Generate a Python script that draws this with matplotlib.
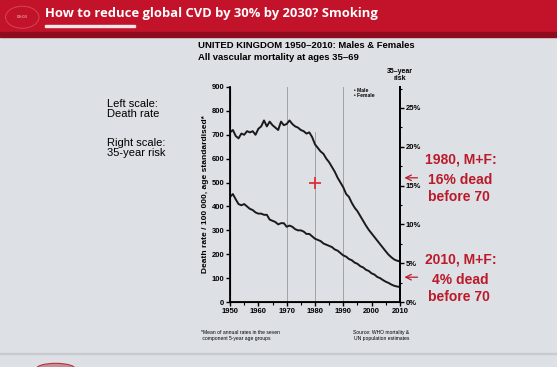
import matplotlib.pyplot as plt
from matplotlib.patches import Rectangle, Circle, Ellipse
import numpy as np

plt.rcParams['font.family'] = ['Liberation Sans', 'DejaVu Sans']

# Data (age-standardised death rate per 100 000)
years = list(range(1950, 2011))
male_rate = [710, 720, 695, 685, 705, 700, 715, 710, 715, 700,
             725, 735, 760, 735, 755, 740, 730, 720, 755, 740,
             745, 760, 745, 735, 730, 720, 715, 705, 710, 690,
             660, 645, 630, 620, 600, 585, 565, 545, 520, 500,
             480, 452, 440, 415, 395, 380, 360, 340, 320, 302,
             287, 272, 257, 242, 227, 212, 198, 187, 178, 173, 170]
female_rate = [440, 452, 430, 410, 405, 410, 400, 390, 385, 375,
               370, 370, 365, 365, 345, 340, 335, 325, 330, 330,
               315, 320, 315, 305, 300, 300, 295, 285, 285, 275,
               265, 260, 255, 245, 240, 235, 230, 220, 215, 205,
               195, 190, 180, 175, 165, 160, 150, 145, 135, 130,
               120, 115, 105, 100, 92, 85, 80, 73, 68, 65, 63]
ref_years = [1970, 1980, 1990]
left_ticks = [0, 100, 200, 300, 400, 500, 600, 700, 800, 900]
right_ticks = [0, 5, 10, 15, 20, 25]
# arrow level (right scale, %) and the three text lines beside it
risk_notes = [(16, "1980, M+F:", "16% dead", "before 70"),
              (3.2, "2010, M+F:", "4% dead", "before 70")]

bg = '#dde0e4'
red = '#bb1a2a'
fig = plt.figure(figsize=(5.57, 3.67), dpi=100)
fig.patch.set_facecolor(bg)

# header banner
fig.add_artist(Rectangle((0, 0.91), 1, 0.09, transform=fig.transFigure,
                         color='#c3132b', zorder=0))
fig.add_artist(Rectangle((0, 0.90), 1, 0.012, transform=fig.transFigure,
                         color='#8e0c1e', zorder=0))
fig.add_artist(Rectangle((0.081, 0.927), 0.162, 0.006, transform=fig.transFigure,
                         color='#f2e6e6', zorder=1))
fig.add_artist(Circle((0.04, 0.953), 0.03, transform=fig.transFigure,
                      facecolor='#c3132b', edgecolor='#d54452', lw=0.7, zorder=1))
fig.text(0.04, 0.953, "09:03", color='#f0c8cc', fontsize=3.2, ha='center', va='center')
fig.text(0.081, 0.963, "How to reduce global CVD by 30% by 2030? Smoking",
         color='white', fontsize=9.4, fontweight='bold', ha='left', va='center',
         family=['Open Sans', 'DejaVu Sans'])
# bottom slide furniture
fig.add_artist(Rectangle((0, 0.036), 1, 0.003, transform=fig.transFigure,
                         color='#c8ccd0', zorder=0))
fig.add_artist(Ellipse((0.1, -0.005), 0.07, 0.03, transform=fig.transFigure,
                       facecolor='#c98d98', edgecolor='#b8303f', lw=0.8, zorder=0))

ax = fig.add_axes([0.413, 0.177, 0.305, 0.586])
ax.set_facecolor(bg)
for y in ref_years:
    top = 710 if y == 1980 else 900
    ax.plot([y, y], [0, top], color='#a0a4a8', lw=0.7, zorder=1)
ax.plot(years, male_rate, color='#1a1a1a', lw=1.4, zorder=3)
ax.plot(years, female_rate, color='#1a1a1a', lw=1.4, zorder=3)
ax.plot(1980, 500, marker='+', color='#e0303a', ms=9, mew=1.3, zorder=4)

ax.set_xlim(1950, 2010)
ax.set_ylim(0, 900)
ax.set_xticks(range(1950, 2011, 10))
ax.set_xticks(range(1950, 2011, 5), minor=True)
ax.set_yticks(left_ticks)
ax.tick_params(labelsize=5.5, length=3, width=1, pad=1)
ax.tick_params(which='minor', length=2, width=0.8)
for lab in ax.get_xticklabels() + ax.get_yticklabels():
    lab.set_fontweight('bold')
ax.spines['top'].set_visible(False)
for s in ['left', 'bottom', 'right']:
    ax.spines[s].set_linewidth(1.3)
ax.set_ylabel("Death rate / 100 000, age standardised*", fontsize=6,
              fontweight='bold', labelpad=2)

ax.text(0.73, 0.995, "\u2022 Male", transform=ax.transAxes, fontsize=3.6,
        fontweight='bold', va='top')
ax.text(0.73, 0.97, "\u2022 Female", transform=ax.transAxes, fontsize=3.6,
        fontweight='bold', va='top')

ax2 = ax.twinx()
ax2.set_ylim(0, 27.7)
ax2.set_yticks(right_ticks)
ax2.set_yticklabels([f"{t}%" for t in right_ticks])
ax2.set_yticks(np.arange(0, 27.7, 2.5), minor=True)
ax2.tick_params(labelsize=5.5, length=3, width=1, pad=1)
ax2.tick_params(which='minor', length=1.5, width=0.8)
for lab in ax2.get_yticklabels():
    lab.set_fontweight('bold')
ax2.spines['top'].set_visible(False)
ax2.spines['right'].set_linewidth(1.3)
ax2.text(1.0, 1.025, "35\u2013year\nrisk", transform=ax2.transAxes, fontsize=5,
         fontweight='bold', ha='center', va='bottom', linespacing=0.95)

for val, l1, l2, l3 in risk_notes:
    ax2.annotate("", xy=(1.01, val), xytext=(1.12, val),
                 xycoords=('axes fraction', 'data'), textcoords=('axes fraction', 'data'),
                 arrowprops=dict(arrowstyle='->', color=red, lw=0.9))
    for txt, dx, dy in [(l1, 1.36, 2.3), (l2, 1.355, -0.3), (l3, 1.345, -2.5)]:
        ax2.text(dx, val + dy, txt, transform=ax2.get_yaxis_transform(),
                 color=red, fontsize=10, fontweight='bold', ha='center', va='center')

# chart titles and side notes
fig.text(0.356, 0.875, "UNITED KINGDOM 1950\u20132010: Males & Females",
         fontsize=6.8, fontweight='bold', va='center')
fig.text(0.356, 0.843, "All vascular mortality at ages 35\u201369",
         fontsize=6.8, fontweight='bold', va='center')
fig.text(0.192, 0.703, "Left scale:\nDeath rate", fontsize=8, va='center', linespacing=1.1)
fig.text(0.192, 0.597, "Right scale:\n35-year risk", fontsize=8, va='center', linespacing=1.1)
fig.text(0.36, 0.085, "*Mean of annual rates in the seven\n component 5-year age groups",
         fontsize=3.6, va='center')
fig.text(0.685, 0.085, "Source: WHO mortality &\nUN population estimates",
         fontsize=3.6, va='center', ha='center', multialignment='center')

fig.savefig("out.png", dpi=100, facecolor=bg)
